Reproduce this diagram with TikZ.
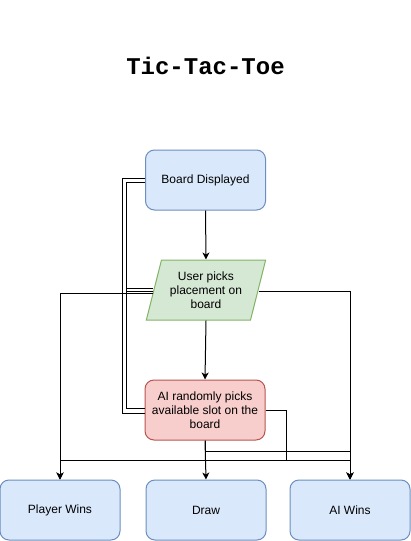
\documentclass[tikz,border=0pt]{standalone}
\usepackage{fontspec}
\setmainfont{Liberation Sans}
\newfontfamily\titlefont{Liberation Mono}
\usepackage{tikz}
\usetikzlibrary{arrows.meta,shapes.geometric}

\definecolor{bluefill}{HTML}{DAE8FC}
\definecolor{blueline}{HTML}{6C8EBF}
\definecolor{greenfill}{HTML}{D5E8D4}
\definecolor{greenline}{HTML}{82B366}
\definecolor{redfill}{HTML}{F8CECC}
\definecolor{redline}{HTML}{B85450}

\begin{document}
\begin{tikzpicture}[x=1pt, y=-1pt, line width=1pt,
  box/.style={draw=blueline, fill=bluefill, rounded corners=9pt, minimum width=120pt, minimum height=60pt, align=center, font=\fontsize{12}{14}\selectfont},
  arr/.style={-{Stealth[length=7pt,width=7pt,inset=2pt]}}]
 \useasboundingbox (0,0) rectangle (411,541);
  \node[font=\titlefont\bfseries\fontsize{24}{28}\selectfont] (title) at (205.5,66) {Tic-Tac-Toe};
  \node[box] (board) at (205.5,180) {Board Displayed};
  \node[draw=greenline, fill=greenfill, trapezium, trapezium left angle=71.6, trapezium right angle=108.4, trapezium stretches=true, minimum width=120pt, minimum height=60pt, inner sep=0pt, align=center, font=\fontsize{12}{14}\selectfont] (user) at (206,290) {User picks\\placement on\\board};
  \node[box, draw=redline, fill=redfill] (ai) at (205,410) {AI randomly picks\\available slot on the\\board};
  \node[box] (player) at (60,510) {Player Wins};
  \node[box] (draw) at (206,510) {Draw};
  \node[box] (aiwins) at (350,510) {AI Wins};
  % main flow
  \draw[arr] (board.south) -- (user.north);
  \draw[arr] (user.south) -- (ai.north);
  \draw[arr] (ai.south) -- (draw.north);
  % back to the board
  \draw ([yshift=-3pt]ai.west) -- ++(-22,0) |- ([yshift=2pt]board.west);
  \draw ([yshift=2pt]ai.west) -- ++(-18,0) |- ([yshift=-2pt]board.west);
  \draw ([yshift=2pt]user.west) -- ++(-26,0);
  \draw ([yshift=-1pt]user.west) -- ++(-26,0);
  % outcomes
  \draw[arr] ([yshift=-3pt]user.west) -| (player.north);
  \draw[arr] ([yshift=-1pt]user.east) -| (aiwins.north);
  \draw[arr] (ai.south) -- ++(0,11) -| (aiwins.north);
  \draw[arr] (ai.east) -- ++(21,0) -- ++(0,50) -| (player.north);
  \draw[arr] (ai.east) -- ++(21,0) -- ++(0,50) -| (aiwins.north);
\end{tikzpicture}
\end{document}
